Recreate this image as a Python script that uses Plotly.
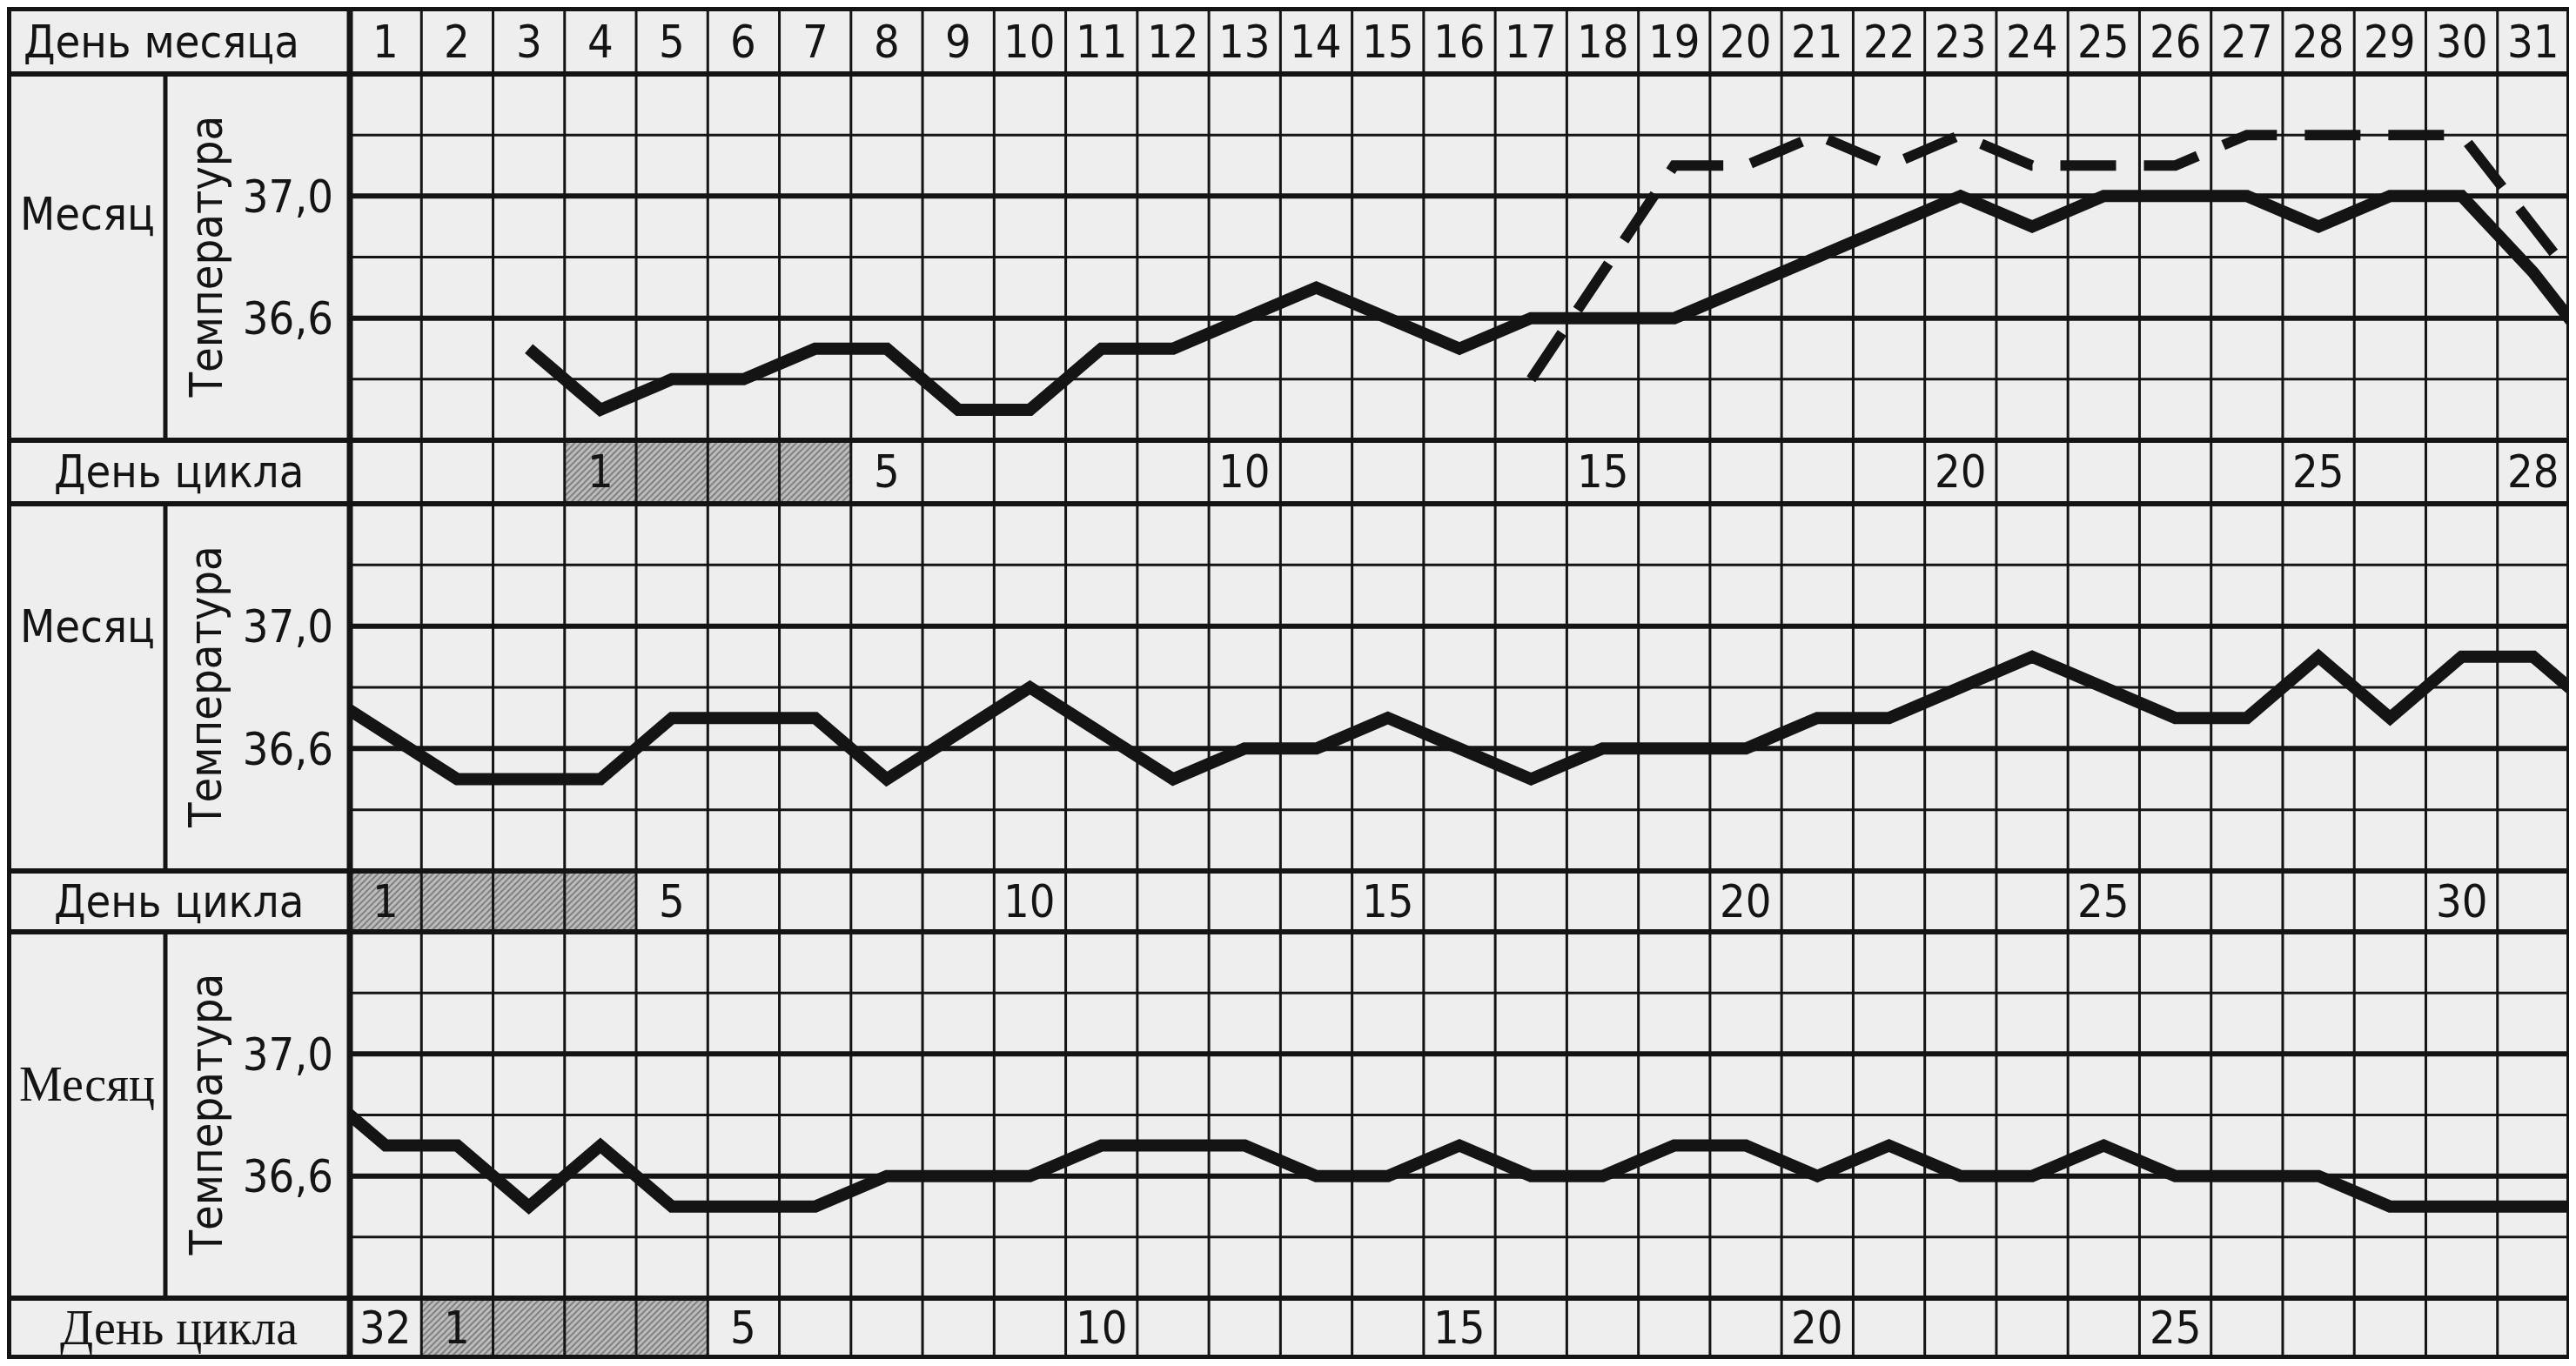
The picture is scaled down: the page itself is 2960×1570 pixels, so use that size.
import plotly.graph_objects as go

W, H = 2960, 1570
# the page body keeps its default 8px margin, so the figure is drawn
# 8px in from the top-left corner; all pixel positions are corrected for it
OFF = 8
FIG_W, FIG_H = W - 2 * OFF, H - 2 * OFF

# ---- data ------------------------------------------------------------
month_days = list(range(1, 32))

# month 1: basal temperature (solid) and the second, dashed curve
p1_days = list(range(3, 33))
p1_temp = [36.5, 36.3, 36.4, 36.4, 36.5, 36.5, 36.3, 36.3, 36.5, 36.5,
           36.6, 36.7, 36.6, 36.5, 36.6, 36.6, 36.6, 36.7, 36.8, 36.9,
           37.0, 36.9, 37.0, 37.0, 37.0, 36.9, 37.0, 37.0, 36.75, 36.45]
p1_dash_days = list(range(17, 33))
p1_dash_temp = [36.4, 36.75, 37.1, 37.1, 37.2, 37.1, 37.2, 37.1,
                37.1, 37.1, 37.2, 37.2, 37.2, 37.2, 36.9, 36.6]

# month 2
p2_days = list(range(0, 33))
p2_temp = [36.8, 36.65, 36.5, 36.5, 36.5, 36.7, 36.7, 36.7, 36.5, 36.65,
           36.8, 36.65, 36.5, 36.6, 36.6, 36.7, 36.6, 36.5, 36.6, 36.6,
           36.6, 36.7, 36.7, 36.8, 36.9, 36.8, 36.7, 36.7, 36.9, 36.7,
           36.9, 36.9, 36.7]

# month 3
p3_days = list(range(0, 33))
p3_temp = [36.9, 36.7, 36.7, 36.5, 36.7, 36.5, 36.5, 36.5, 36.6, 36.6,
           36.6, 36.7, 36.7, 36.7, 36.6, 36.6, 36.7, 36.6, 36.6, 36.7,
           36.7, 36.6, 36.7, 36.6, 36.6, 36.7, 36.6, 36.6, 36.6, 36.5,
           36.5, 36.5, 36.5]

# "День цикла" rows
cycle1_days = [4, 8, 13, 18, 23, 28, 31]
cycle1_text = ["1", "5", "10", "15", "20", "25", "28"]
cycle1_shaded = [4, 5, 6, 7]

cycle2_days = [1, 5, 10, 15, 20, 25, 30]
cycle2_text = ["1", "5", "10", "15", "20", "25", "30"]
cycle2_shaded = [1, 2, 3, 4]

cycle3_days = [1, 2, 6, 11, 16, 21, 26]
cycle3_text = ["32", "1", "5", "10", "15", "20", "25"]
cycle3_shaded = [2, 3, 4, 5]

temp_ticks = [36.6, 37.0]
temp_ticktext = ["36,6", "37,0"]
grid_thin = [37.2, 36.8, 36.4]
grid_thick = [37.0, 36.6]

# ---- layout geometry (screen pixels) ---------------------------------
TABLE_L, SPLIT_X, GRID_L, GRID_R = 10, 190, 402, 2952
ROWS = [10, 85, 506, 579, 1001, 1071, 1492, 1560]
INK = "#141414"
FONT = "Liberation Sans Narrow, DejaVu Sans Condensed, Liberation Sans, sans-serif"
SERIF = "Liberation Serif, Times New Roman, serif"


def px(v):
    return min(max((v - OFF) / FIG_W, 0), 1)


def py(v):
    return min(max(1 - (v - OFF) / FIG_H, 0), 1)


def label(x, y, text, xref="paper", yref="paper", family=FONT, size=52, **kw):
    return dict(x=x, y=y, xref=xref, yref=yref, text=text, showarrow=False,
                xanchor=kw.pop("xanchor", "center"), yanchor="middle",
                font=dict(family=family, size=size, color=INK), **kw)


fig = go.Figure()

panels = [
    [(p1_days, p1_temp, "solid"), (p1_dash_days, p1_dash_temp, "64px,32px")],
    [(p2_days, p2_temp, "solid")],
    [(p3_days, p3_temp, "solid")],
]
for i, series in enumerate(panels):
    yname = "y" if i == 0 else f"y{i + 1}"
    for xs, ys, dash in series:
        fig.add_trace(go.Scatter(
            x=xs, y=ys, xaxis="x", yaxis=yname, mode="lines",
            line=dict(color=INK, width=14 if dash == "solid" else 12, dash=dash),
            hoverinfo="skip", showlegend=False,
        ))

cycles = [
    (cycle1_days, cycle1_text, cycle1_shaded),
    (cycle2_days, cycle2_text, cycle2_shaded),
    (cycle3_days, cycle3_text, cycle3_shaded),
]
for i, (_, _, shaded) in enumerate(cycles):
    fig.add_trace(go.Bar(
        x=shaded, y=[1] * len(shaded), width=1, xaxis="x", yaxis=f"y{i + 4}",
        marker=dict(color="#aaaaaa", line_width=0,
                    pattern=dict(shape="/", fgcolor="#3a3a3a", bgcolor="#bdbdbd",
                                 size=5, solidity=0.4)),
        hoverinfo="skip", showlegend=False,
    ))

layout_axes = dict(
    xaxis=dict(domain=[px(GRID_L), px(GRID_R)], range=[0.5, 31.5],
               visible=False, fixedrange=True),
)
for i in range(3):
    top, bottom = ROWS[1 + 2 * i], ROWS[2 + 2 * i]
    key = "yaxis" if i == 0 else f"yaxis{i + 1}"
    layout_axes[key] = dict(
        domain=[py(bottom), py(top)], range=[36.2, 37.4], anchor="x",
        tickvals=temp_ticks, ticktext=temp_ticktext, ticks="",
        showgrid=False, zeroline=False, showline=False,
        ticklabelstandoff=18, automargin=False,
        tickfont=dict(family=FONT, size=52, color=INK),
    )
    ctop, cbottom = ROWS[2 + 2 * i], ROWS[3 + 2 * i]
    layout_axes[f"yaxis{i + 4}"] = dict(
        domain=[py(cbottom), py(ctop)], range=[0, 1], anchor="x", visible=False,
    )

shapes = [
    dict(type="rect", xref="paper", yref="paper", x0=px(TABLE_L), x1=px(GRID_R),
         y0=py(ROWS[-1]), y1=py(ROWS[0]), fillcolor="#eeeeee", line_width=0,
         layer="below"),
]
# column lines
for k in range(1, 31):
    shapes.append(dict(type="line", xref="x", yref="paper", x0=k + 0.5, x1=k + 0.5,
                       y0=py(ROWS[-1]), y1=py(ROWS[0]),
                       line=dict(color=INK, width=3), layer="above"))
# temperature grid inside each panel
for i in range(3):
    yref = "y" if i == 0 else f"y{i + 1}"
    for v in grid_thin:
        shapes.append(dict(type="line", xref="x", yref=yref, x0=0.5, x1=31.5, y0=v, y1=v,
                           line=dict(color=INK, width=3), layer="above"))
    for v in grid_thick:
        shapes.append(dict(type="line", xref="x", yref=yref, x0=0.5, x1=31.5, y0=v, y1=v,
                           line=dict(color=INK, width=6), layer="above"))
    top, bottom = ROWS[1 + 2 * i], ROWS[2 + 2 * i]
    shapes.append(dict(type="line", xref="paper", yref="paper", x0=px(SPLIT_X), x1=px(SPLIT_X),
                       y0=py(bottom), y1=py(top), line=dict(color=INK, width=5),
                       layer="above"))
# row separators and frame
for r in ROWS[1:-1]:
    shapes.append(dict(type="line", xref="paper", yref="paper", x0=px(TABLE_L), x1=px(GRID_R),
                       y0=py(r), y1=py(r), line=dict(color=INK, width=6), layer="above"))
shapes.append(dict(type="line", xref="paper", yref="paper", x0=px(GRID_L), x1=px(GRID_L),
                   y0=py(ROWS[-1]), y1=py(ROWS[0]), line=dict(color=INK, width=7),
                   layer="above"))
shapes.append(dict(type="rect", xref="paper", yref="paper", x0=px(TABLE_L), x1=px(GRID_R),
                   y0=py(ROWS[-1]), y1=py(ROWS[0]), line=dict(color=INK, width=6),
                   fillcolor="rgba(0,0,0,0)", layer="above"))

annotations = []
head_y = py((ROWS[0] + ROWS[1]) / 2)
annotations.append(label(px(25), head_y, "День месяца", xanchor="left"))
for d in month_days:
    annotations.append(label(d, head_y, str(d), xref="x"))

month_y = [36.94, 37.0, 36.9]
for i in range(3):
    yref = "y" if i == 0 else f"y{i + 1}"
    fam = SERIF if i == 2 else FONT
    annotations.append(label(px(100), month_y[i], "Месяц", yref=yref, family=fam,
                             size=56 if i == 2 else 52))
    annotations.append(label(px(236), 36.8, "Температура", yref=yref, textangle=-90))

for i, (cdays, ctext, _) in enumerate(cycles):
    cy = py((ROWS[2 + 2 * i] + ROWS[3 + 2 * i]) / 2)
    fam = SERIF if i == 2 else FONT
    annotations.append(label(px(206), cy, "День цикла", family=fam,
                             size=56 if i == 2 else 52))
    for d, t in zip(cdays, ctext):
        annotations.append(label(d, cy, t, xref="x"))

fig.update_layout(
    width=FIG_W, height=FIG_H, margin=dict(l=0, r=0, t=0, b=0),
    paper_bgcolor="#fbfbfb", plot_bgcolor="rgba(0,0,0,0)",
    showlegend=False, barmode="overlay",
    shapes=shapes, annotations=annotations,
    **layout_axes,
)

fig.write_html("out.html")
